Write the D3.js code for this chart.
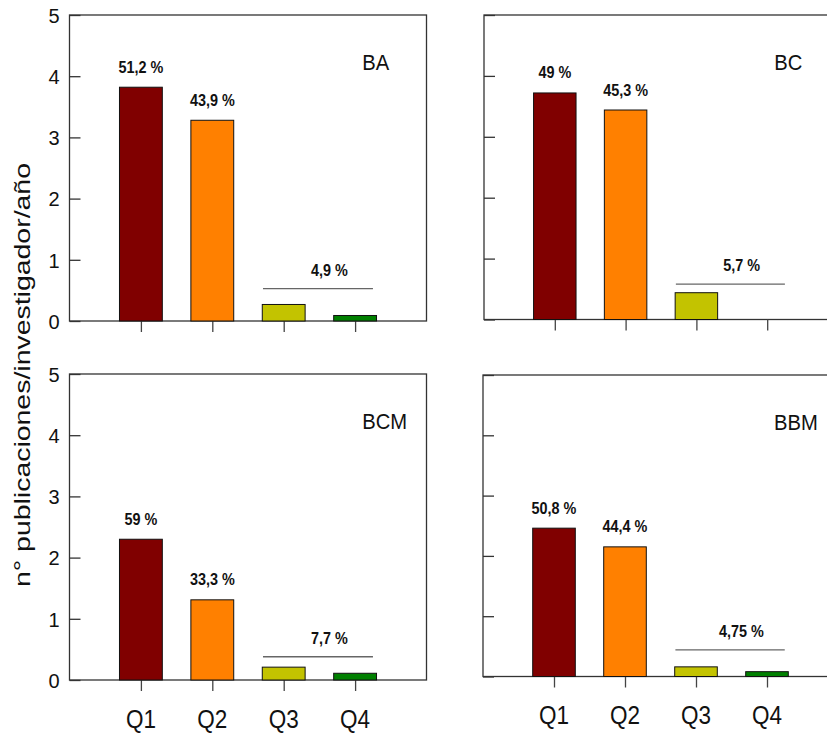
<!DOCTYPE html>
<html>
<head>
<meta charset="utf-8">
<script src="https://cdn.jsdelivr.net/npm/d3@7"></script>
<style>
  body { margin: 0; background: #fff; }
  svg { display: block; }
</style>
</head>
<body>
<div id="chart"></div>
<script>
// Data
var quartiles = ["Q1", "Q2", "Q3", "Q4"];
var groups = ["BA", "BC", "BCM", "BBM"];
var baValues = [3.82, 3.28, 0.27, 0.09];
var bcValues = [3.72, 3.44, 0.44, 0];
var bcmValues = [2.30, 1.31, 0.21, 0.11];
var bbmValues = [2.46, 2.15, 0.16, 0.08];
// share labels: Q1, Q2, then Q3+Q4 together
var baPct = ["51,2 %", "43,9 %", "4,9 %"];
var bcPct = ["49 %", "45,3 %", "5,7 %"];
var bcmPct = ["59 %", "33,3 %", "7,7 %"];
var bbmPct = ["50,8 %", "44,4 %", "4,75 %"];
// level of the line grouping Q3 and Q4
var bracketLevels = [0.53, 0.58, 0.38, 0.44];
var yTicks = [0, 1, 2, 3, 4, 5];
var yTitle = "n° publicaciones/investigador/año";

var colors = ["#800000", "#ff8000", "#c3c300", "#008000"];

var width = 827, height = 733;

// panel placement (pixels)
var panelLayout = [
  { x: 69.5, y: 15, w: 357, h: 306, left: true, bottom: false },
  { x: 484, y: 15, w: 354, h: 304.5, left: false, bottom: false },
  { x: 69.5, y: 374, w: 357, h: 306, left: true, bottom: true },
  { x: 483, y: 375, w: 355, h: 301.5, left: false, bottom: true }
];

var values = [baValues, bcValues, bcmValues, bbmValues];
var pcts = [baPct, bcPct, bcmPct, bbmPct];

var svg = d3.select("#chart").append("svg")
  .attr("width", width)
  .attr("height", height);

var font = "'Liberation Sans', Arial, sans-serif";

groups.forEach(function(name, gi) {
  var p = panelLayout[gi];
  var g = svg.append("g").attr("transform", "translate(" + p.x + "," + p.y + ")");

  var x = d3.scalePoint().domain(quartiles).range([0, p.w]).padding(1);
  var step = x.step();
  var bw = step * 0.6;
  var y = d3.scaleLinear().domain([0, 5]).range([p.h, 0]);

  // frame
  g.append("rect")
    .attr("width", p.w).attr("height", p.h)
    .attr("fill", "none")
    .attr("stroke", "#333")
    .attr("stroke-width", 1.3);

  // y axis, ticks inward
  var yAxis = d3.axisLeft(y).tickValues(yTicks).tickSize(-11).tickPadding(10)
    .tickFormat(p.left ? d3.format("d") : "");
  var ya = g.append("g").call(yAxis);
  ya.select(".domain").remove();
  ya.selectAll(".tick line").attr("stroke", "#333").attr("stroke-width", 1.3);
  ya.selectAll(".tick text")
    .attr("font-family", font).attr("font-size", 20).attr("fill", "#111")
    .attr("x", -10).attr("dy", "0.36em");

  // x axis, ticks outward
  var xAxis = d3.axisBottom(x).tickSize(11).tickSizeOuter(0).tickFormat("");
  var xa = g.append("g").attr("transform", "translate(0," + p.h + ")").call(xAxis);
  xa.select(".domain").remove();
  xa.selectAll(".tick line").attr("stroke", "#444").attr("stroke-width", 1.3);

  if (p.bottom) {
    g.selectAll(".qlab").data(quartiles).enter().append("text")
      .attr("class", "qlab")
      .attr("transform", function(d) {
        return "translate(" + x(d) + "," + (p.h + 47.5) + ") scale(0.9,1)";
      })
      .attr("text-anchor", "middle")
      .attr("font-family", font).attr("font-size", 25).attr("fill", "#111")
      .text(function(d) { return d; });
  }

  // bars
  var rows = quartiles.map(function(q, i) { return { q: q, v: values[gi][i], c: colors[i] }; });
  g.selectAll(".bar").data(rows.filter(function(d) { return d.v > 0; })).enter().append("rect")
    .attr("class", "bar")
    .attr("x", function(d) { return x(d.q) - bw / 2; })
    .attr("y", function(d) { return y(d.v); })
    .attr("width", bw)
    .attr("height", function(d) { return y(0) - y(d.v); })
    .attr("fill", function(d) { return d.c; })
    .attr("stroke", "#111")
    .attr("stroke-width", 1);

  // share labels over Q1 and Q2
  g.selectAll(".pct").data(rows.slice(0, 2)).enter().append("text")
    .attr("class", "pct")
    .attr("transform", function(d, i) {
      return "translate(" + x(d.q) + "," + (y(d.v) - 14.5) + ") scale(0.9,1)";
    })
    .attr("text-anchor", "middle")
    .attr("font-family", font).attr("font-size", 16).attr("font-weight", "bold").attr("fill", "#111")
    .text(function(d, i) { return pcts[gi][i]; });

  // Q3 + Q4 bracket line and its label
  var by = y(bracketLevels[gi]);
  g.append("line")
    .attr("x1", x("Q3") - step * 0.29).attr("x2", x("Q4") + step * 0.25)
    .attr("y1", by).attr("y2", by)
    .attr("stroke", "#666").attr("stroke-width", 1.3);
  g.append("text")
    .attr("transform", "translate(" + (x("Q4") - step * 0.36) + "," + (by - 13) + ") scale(0.9,1)")
    .attr("text-anchor", "middle")
    .attr("font-family", font).attr("font-size", 16).attr("font-weight", "bold").attr("fill", "#111")
    .text(pcts[gi][2]);

  // panel name
  g.append("text")
    .attr("transform", "translate(" + (step * 4.1) + ",55) scale(0.92,1)")
    .attr("font-family", font).attr("font-size", 22).attr("fill", "#111")
    .text(name);
});

// shared y title
svg.append("text")
  .attr("transform", "translate(30,375) rotate(-90)")
  .attr("text-anchor", "middle")
  .attr("font-family", font).attr("font-size", 22).attr("fill", "#111")
  .attr("textLength", 424).attr("lengthAdjust", "spacingAndGlyphs")
  .text(yTitle);
</script>
</body>
</html>
